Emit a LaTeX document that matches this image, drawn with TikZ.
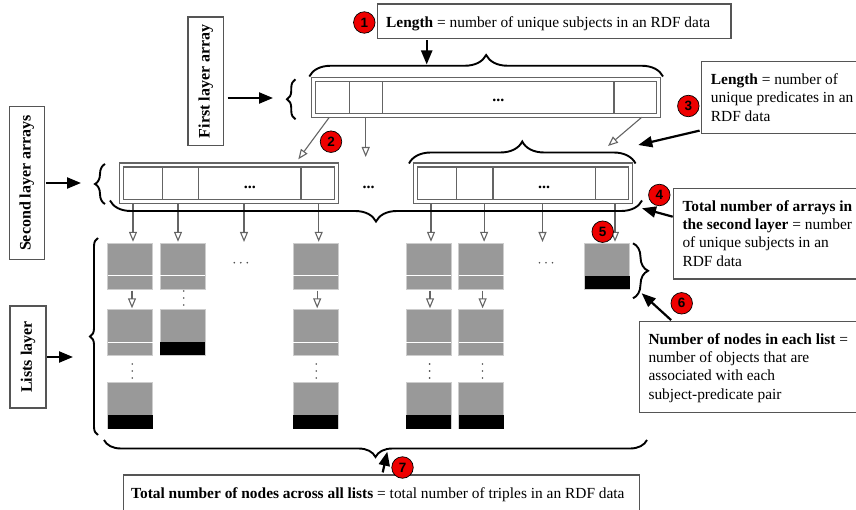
\documentclass[tikz,border=0pt]{standalone}
\usepackage{fontspec}
\setmainfont{Liberation Serif}
\newfontfamily\badgefont{Liberation Sans}
\usetikzlibrary{arrows.meta,decorations.pathreplacing,calc,fit}

\definecolor{framegray}{RGB}{100,100,100}
\definecolor{boxline}{RGB}{85,85,85}
\definecolor{cellfill}{RGB}{153,153,153}
\definecolor{celledge}{RGB}{205,205,205}
\definecolor{badgered}{RGB}{238,0,0}
\definecolor{dotgray}{RGB}{80,80,80}

% list node: grey body with a white split line
\newcommand\listcell[3]{%
  \node[cellbox] (#1) at (#2,#3) {};
  \draw[white,line width=1pt] ([yshift=13.3pt]#1.south west) -- ([yshift=13.3pt]#1.south east);
}
% last node of a list: black tail part
\newcommand\tailcell[3]{%
  \node[cellbox] (#1) at (#2,#3) {};
  \fill[black] (#1.south west) rectangle ([yshift=13.3pt]#1.south east);
}
\newcommand\dotstack[2]{\foreach \k in {0,1,2}{\fill[dotgray] (#1,#2+7*\k) circle[radius=0.9pt];}}
\newcommand\dotline[2]{\foreach \k in {0,1,2}{\fill[dotgray] (#1+6.5*\k,#2) circle[radius=0.9pt];}}

\tikzset{
  txt/.style={inner sep=0pt, font=\fontsize{15.4}{18.35}\selectfont},
  calloutbox/.style={draw=boxline, line width=1.2pt, inner sep=0pt},
  layerlabel/.style={inner sep=0pt, rotate=90, font=\fontsize{16}{18}\selectfont\bfseries},
  arrframe/.style={draw=framegray, line width=1.2pt, double=white, double distance=2.8pt},
  arrcell/.style={draw=framegray, line width=1.2pt, inner sep=0pt, outer sep=0pt},
  cellbox/.style={rectangle, fill=cellfill, draw=celledge, line width=0.8pt,
    minimum width=45pt, minimum height=46pt, inner sep=0pt, outer sep=0pt, anchor=north west},
  ptr/.style={draw=framegray, line width=1.1pt, -{Triangle[open, length=10pt, width=8pt]}},
  callarrow/.style={draw=black, line width=2.2pt, -{Triangle[length=14pt, width=11pt]}},
  curly/.style={decorate, decoration={brace, amplitude=#1}, line width=1.9pt},
  badge/.style={circle, fill=badgered, draw=black, line width=0.7pt, minimum size=21.5pt,
    inner sep=0pt, font=\badgefont\bfseries\fontsize{13.5}{13.5}\selectfont},
  dots/.style={inner sep=0pt, font=\fontsize{16}{18}\selectfont\bfseries},
}

\begin{document}
\begin{tikzpicture}[x=1pt,y=-1pt]
\path[use as bounding box] (0,0) rectangle (856,510);
\clip (0,0) rectangle (856,510);

% ---------- layer labels ----------
\node[calloutbox, fit={(188,17) (223.5,145.7)}] (lblF) {};
\node[layerlabel] (lblFt) at (lblF.center) {First layer array};
\node[calloutbox, fit={(9.3,106.7) (44.3,259.3)}] (lblS) {};
\node[layerlabel] (lblSt) at (lblS.center) {Second layer arrays};
\node[calloutbox, fit={(10,306) (46,408)}] (lblL) {};
\node[layerlabel] (lblLt) at (lblL.center) {Lists layer};

\coordinate (pF) at (273,98);
\coordinate (pS) at (81,183);
\coordinate (pL) at (73,357);
\draw[callarrow] ($(lblF.east |- pF)+(3.5,0)$) -- (pF);
\draw[callarrow] ($(lblS.east |- pS)+(1,0)$) -- (pS);
\draw[callarrow] ($(lblL.east |- pL)+(0.5,0)$) -- (pL);

% ---------- first layer array ----------
\draw[arrframe] (313.7,79.2) rectangle (658.6,115.3);
\node[arrcell, fit={(315.7,81.2) (349.3,113.3)}] (cF1) {};
\node[arrcell, fit={(349.3,81.2) (382.7,113.3)}] (cF2) {};
\node[arrcell, fit={(382.7,81.2) (614,113.3)}] (cF3) {};
\node[arrcell, fit={(614,81.2) (656.6,113.3)}] (cF4) {};
\node[dots, anchor=base] (dF) at (cF3.center |- 0,102) {...};

% ---------- second layer arrays ----------
\draw[arrframe] (121.1,165.1) rectangle (336.7,201.6);
\node[arrcell, fit={(123.1,167.1) (162.8,199.6)}] (cA1) {};
\node[arrcell, fit={(162.8,167.1) (198.5,199.6)}] (cA2) {};
\node[arrcell, fit={(198.5,167.1) (301,199.6)}] (cA3) {};
\node[arrcell, fit={(301,167.1) (334.7,199.6)}] (cA4) {};
\node[dots, anchor=base] (dA) at (cA3.center |- 0,189) {...};

\node[dots, anchor=base] (dMid) at (368.6,189) {...};

\draw[arrframe] (415.3,165.1) rectangle (630.7,201.6);
\node[arrcell, fit={(417.3,167.1) (456.8,199.6)}] (cB1) {};
\node[arrcell, fit={(456.8,167.1) (492.9,199.6)}] (cB2) {};
\node[arrcell, fit={(492.9,167.1) (595.4,199.6)}] (cB3) {};
\node[arrcell, fit={(595.4,167.1) (628.7,199.6)}] (cB4) {};
\node[dots, anchor=base] (dB) at (cB3.center |- 0,189) {...};

% pointers from the first layer into the second layer
\coordinate (g1) at (298.3,159.3);
\coordinate (g2) at (365.7,157);
\coordinate (g3) at (608,146);
\draw[ptr] ($(cF1.south)+(-3.2,4)$) -- (g1);
\draw[ptr] ($(cF2.south)+(-0.3,4)$) -- (g2);
\draw[ptr] ($(cF4.south)+(6.4,4)$) -- (g3);

% ---------- lists ----------
\listcell{L11}{107.5}{243.3}
\listcell{L12}{107.5}{309.3}
\tailcell{L13}{107.5}{382.7}
\listcell{L21}{160}{243.3}
\tailcell{L22}{160}{309.3}
\listcell{L31}{293.2}{243.3}
\listcell{L32}{293.2}{309.3}
\tailcell{L33}{293.2}{382.7}
\listcell{L41}{406}{243.3}
\listcell{L42}{406}{309.3}
\tailcell{L43}{406}{382.7}
\listcell{L51}{458.6}{243.3}
\listcell{L52}{458.6}{309.3}
\tailcell{L53}{458.6}{382.7}
\tailcell{L61}{584.5}{243.3}

% pointers from the second layer into the lists
\coordinate (dA3) at (244,242);
\coordinate (dB3) at (542.5,242);
\draw[ptr, shorten >=1.5pt] ($(cA1.south -| L11.north)+(3,4)$) -- ([xshift=3pt]L11.north);
\draw[ptr, shorten >=1.5pt] ($(cA2.south -| L21.north)+(-4.5,4)$) -- ([xshift=-4.5pt]L21.north);
\draw[ptr] ($(cA3.south -| dA3)+(0,4)$) -- (dA3);
\draw[ptr, shorten >=1.5pt] ($(cA4.south -| L31.north)+(3,4)$) -- ([xshift=3pt]L31.north);
\draw[ptr, shorten >=1.5pt] ($(cB1.south -| L41.north)+(2.5,4)$) -- ([xshift=2.5pt]L41.north);
\draw[ptr, shorten >=1.5pt] ($(cB2.south -| L51.north)+(3,4)$) -- ([xshift=3pt]L51.north);
\draw[ptr] ($(cB3.south -| dB3)+(0,4)$) -- (dB3);
\draw[ptr, shorten >=1.5pt] ($(cB4.south -| L61.north)+(8,4)$) -- ([xshift=8pt]L61.north);

% links between list nodes
\draw[ptr, shorten <=1.4pt, shorten >=1pt] ([xshift=2pt]L11.south) -- ([xshift=2pt]L12.north);
\draw[ptr, shorten <=1.4pt, shorten >=1pt] ([xshift=1.5pt]L31.south) -- ([xshift=1.5pt]L32.north);
\draw[ptr, shorten <=1.4pt, shorten >=1pt] ([xshift=1.5pt]L41.south) -- ([xshift=1.5pt]L42.north);
\draw[ptr, shorten <=1.4pt, shorten >=1pt] ([xshift=1.5pt]L51.south) -- ([xshift=1.5pt]L52.north);

% elided nodes and lists
\dotstack{132.3}{364}
\dotstack{183.8}{291}
\dotstack{316.3}{364}
\dotstack{429.6}{364}
\dotstack{482.5}{364}
\dotline{234.3}{262.7}
\dotline{539.5}{262.7}

% ---------- braces ----------
\draw[curly=21.5] (309.3,76.5) -- (663,76.5);
\draw[curly=21] (642,200.5) -- (110,200.5);
\draw[curly=22] (409,163.5) -- (635.5,163.5);
\draw[curly=17] (647,440) -- (104,440);
\draw[curly=15] (633,243.3) -- (633,298.3);
\draw[curly=8.5] (295.5,119.3) -- (295.5,79.3);
\draw[curly=10] (105,204) -- (105,164);
\draw[curly=8] (98,435) -- (98,238);

% ---------- callout boxes ----------
\node[calloutbox, fit={(377.3,4) (731,38.3)}] (box1) {};
\node[txt, anchor=base west] (box1t) at (386,27.3) {\textbf{Length} = number of unique subjects in an RDF data};

\node[calloutbox, fit={(701.7,61.7) (870,133.3)}] (box3) {};
\node[txt, anchor=north west, align=left] (box3t) at (710.7,71.45)
  {\strut\textbf{Length} = number of\\unique predicates in an\\RDF data};

\node[calloutbox, fit={(673.3,188.3) (870,279)}] (box4) {};
\node[txt, anchor=north west, align=left] (box4t) at (682.3,198.15)
  {\strut\textbf{Total number of arrays in}\\\textbf{the second layer} = number\\of unique subjects in an\\RDF data};

\node[calloutbox, fit={(639.3,321.7) (870,412.3)}] (box6) {};
\node[txt, anchor=north west, align=left] (box6t) at (648.3,331.15)
  {\strut\textbf{Number of nodes in each list} =\\number of objects that are\\associated with each\\subject-predicate pair};

\node[calloutbox, fit={(123.3,475) (639.3,520)}] (box7) {};
\node[txt, anchor=base west] (box7t) at (131,498.3)
  {\textbf{Total number of nodes across all lists} = total number of triples in an RDF data};

% callout arrows
\coordinate (t1) at (426.7,64.5);
\coordinate (t3) at (638.3,145);
\coordinate (t4) at (642,208.3);
\coordinate (t6) at (641.7,293.3);
\coordinate (t7) at (387.3,451.7);
\draw[callarrow] ($(box1.south -| t1)+(0,1.5)$) -- (t1);
\draw[callarrow] ($(box3.south west)+(-1.5,-3.3)$) -- (t3);
\draw[callarrow] ($(box4.north west)+(0,29)$) -- (t4);
\draw[callarrow] ($(box6.north west)+(32.4,-1)$) -- (t6);
\draw[callarrow] ($(box7.north west)+(260,-2)$) -- (t7);

% ---------- numbered badges ----------
\node[badge] (n1) at (364.3,22.5) {1};
\node[badge] (n2) at (331,141.7) {2};
\node[badge] (n3) at (688.3,106) {3};
\node[badge] (n4) at (659.3,195) {4};
\node[badge] (n5) at (602.7,231.7) {5};
\node[badge] (n6) at (681.7,303.3) {6};
\node[badge] (n7) at (402.5,467.5) {7};
\end{tikzpicture}
\end{document}
